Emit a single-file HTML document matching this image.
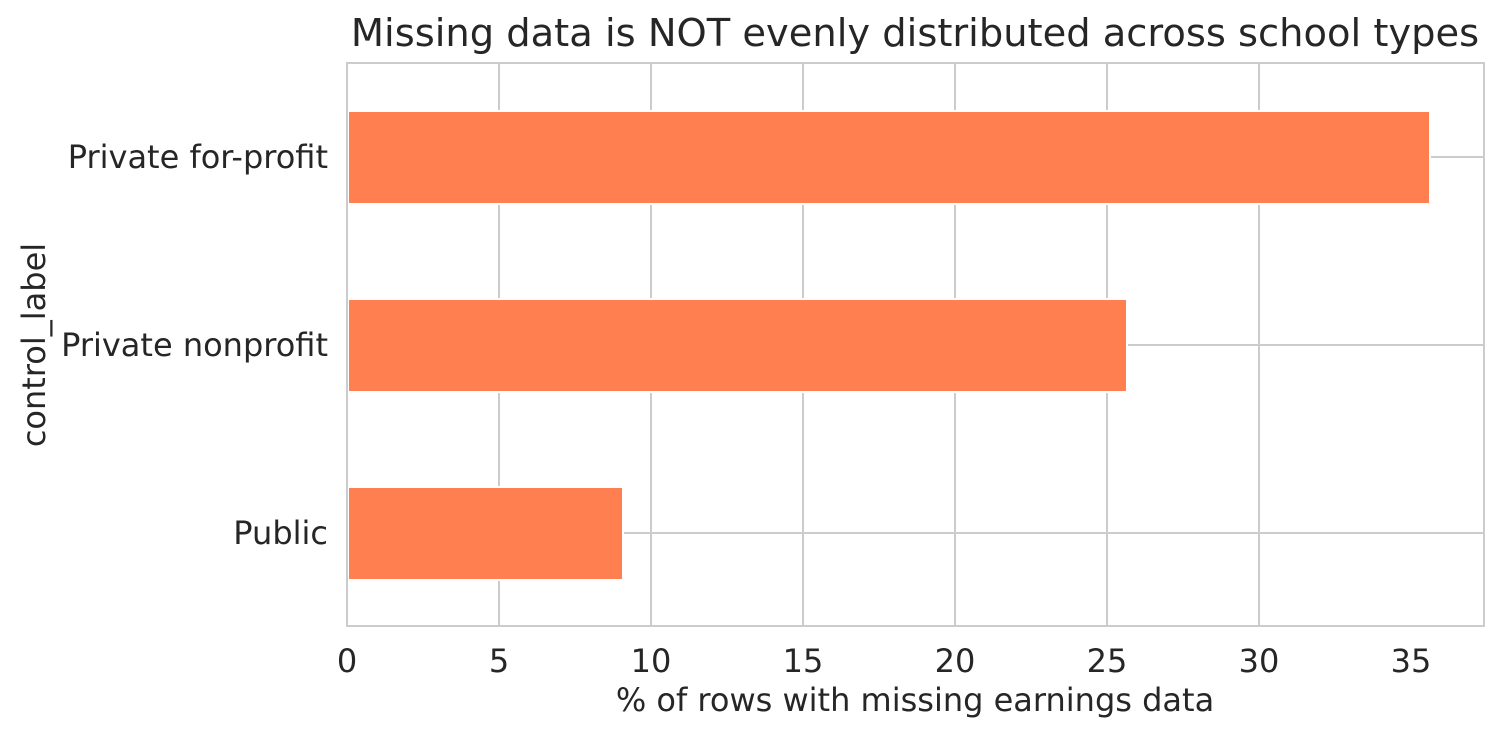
<!DOCTYPE html>
<html><head><meta charset="utf-8"><style>body{margin:0;background:#fff}</style></head>
<body>
<svg width="1503" height="737" xmlns="http://www.w3.org/2000/svg" font-family="'DejaVu Sans','Liberation Sans',sans-serif" fill="#262626">
<rect width="1503" height="737" fill="#fff"/>
<g stroke="#cccccc" stroke-width="2">
<line x1="499" y1="63" x2="499" y2="626"/><line x1="651" y1="63" x2="651" y2="626"/>
<line x1="803" y1="63" x2="803" y2="626"/><line x1="955" y1="63" x2="955" y2="626"/>
<line x1="1107" y1="63" x2="1107" y2="626"/><line x1="1259" y1="63" x2="1259" y2="626"/>
<line x1="347" y1="157" x2="1484" y2="157"/><line x1="347" y1="345" x2="1484" y2="345"/>
<line x1="347" y1="533" x2="1484" y2="533"/>
</g>
<g fill="#FF7F50" stroke="#fff" stroke-width="2">
<rect x="348" y="111" width="1082" height="93"/>
<rect x="348" y="299" width="779" height="93"/>
<rect x="348" y="487" width="275" height="93"/>
</g>
<rect x="347" y="63" width="1137" height="563" fill="none" stroke="#cccccc" stroke-width="2"/>
<g font-size="32" text-anchor="middle">
<text x="347" y="672">0</text><text x="499" y="672">5</text><text x="651" y="672">10</text>
<text x="803" y="672">15</text><text x="955" y="672">20</text><text x="1107" y="672">25</text>
<text x="1259" y="672">30</text><text x="1411" y="672">35</text>
<text x="915" y="711">% of rows with missing earnings data</text>
<text x="915" y="46" font-size="38.4">Missing data is NOT evenly distributed across school types</text>
</g>
<g font-size="32" text-anchor="end">
<text x="328" y="168">Private for-profit</text>
<text x="328" y="356">Private nonprofit</text>
<text x="328" y="544">Public</text>
</g>
<text transform="translate(45,345) rotate(-90)" font-size="32" text-anchor="middle">control_label</text>
</svg>
</body></html>
